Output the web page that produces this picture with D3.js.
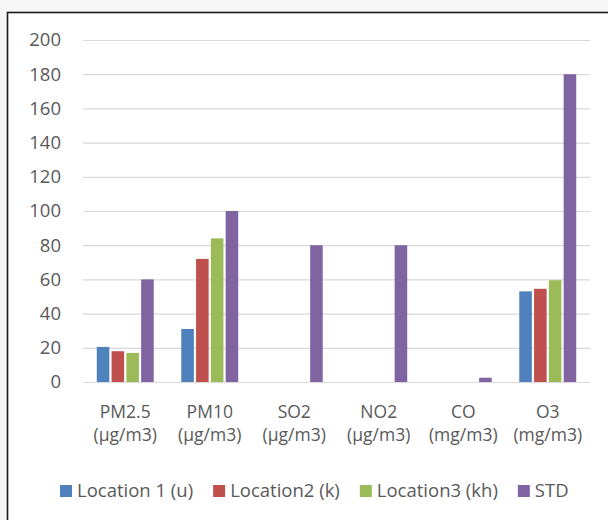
<!DOCTYPE html>
<html>
<head>
<meta charset="utf-8">
<script src="https://cdn.jsdelivr.net/npm/d3@7"></script>
<style>
  html, body { margin: 0; padding: 0; background: #f6f6f6; }
  svg { display: block; }
  text { font-family: "Open Sans", sans-serif; fill: #595959; }
</style>
</head>
<body>
<svg id="chart" width="608" height="520"></svg>
<script>
const categories = ["PM2.5", "PM10", "SO2", "NO2", "CO", "O3"];
const units = ["(µg/m3)", "(µg/m3)", "(µg/m3)", "(µg/m3)", "(mg/m3)", "(mg/m3)"];
const seriesNames = ["Location 1 (u)", "Location2 (k)", "Location3 (kh)", "STD"];
const location1 = [20.5, 31, null, null, null, 53];
const location2 = [18, 72, null, null, null, 54.5];
const location3 = [17, 84, null, null, null, 59.5];
const stdValues = [60, 100, 80, 80, 2.5, 180];
const yTicks = [0, 20, 40, 60, 80, 100, 120, 140, 160, 180, 200];
const colors = ["#4F81BD", "#C0504D", "#9BBB59", "#8064A2"];

const seriesValues = [location1, location2, location3, stdValues];

const svg = d3.select("#chart");

// chart frame
svg.append("rect")
  .attr("x", 7.5).attr("y", 12.5)
  .attr("width", 620).attr("height", 520)
  .attr("fill", "#ffffff")
  .attr("stroke", "#1a1a1a").attr("stroke-width", 1.6);

const plot = { left: 83, right: 590, top: 40, bottom: 382 };

const x0 = d3.scaleBand()
  .domain(categories)
  .range([plot.left, plot.right])
  .paddingInner(0.326)
  .paddingOuter(0.163);

const x1 = d3.scaleBand()
  .domain(d3.range(seriesNames.length))
  .range([0, x0.bandwidth()])
  .paddingInner(0.15);

const y = d3.scaleLinear().domain([0, 200]).range([plot.bottom, plot.top]);

// gridlines + y labels
const yAxis = svg.append("g")
  .attr("transform", `translate(${plot.left},0)`)
  .call(d3.axisLeft(y).tickValues(yTicks).tickSize(-(plot.right - plot.left)).tickPadding(22));
yAxis.select(".domain").remove();
yAxis.selectAll(".tick line").attr("stroke", "#d9d9d9").attr("stroke-width", 1.2);
yAxis.selectAll(".tick text")
  .style("font-family", '"Open Sans", sans-serif')
  .style("font-size", "18.5px")
  .attr("fill", "#595959");

// bars
const groups = svg.append("g").selectAll("g")
  .data(categories)
  .join("g")
  .attr("transform", d => `translate(${x0(d)},0)`);

groups.selectAll("rect")
  .data((d, i) => seriesValues.map((s, j) => ({ s: j, v: s[i] })).filter(e => e.v != null))
  .join("rect")
  .attr("x", d => x1(d.s))
  .attr("width", x1.bandwidth())
  .attr("y", d => y(d.v))
  .attr("height", d => y(0) - y(d.v))
  .attr("fill", d => colors[d.s]);

// category labels (two separate lines)
const catG = svg.append("g");
categories.forEach((c, i) => {
  const cx = x0(c) + x0.bandwidth() / 2;
  catG.append("text")
    .attr("x", cx).attr("y", 418)
    .attr("text-anchor", "middle")
    .style("font-size", "17.5px")
    .text(c);
  catG.append("text")
    .attr("x", cx).attr("y", 441)
    .attr("text-anchor", "middle")
    .style("font-size", "17.5px")
    .text(units[i]);
});

// legend
const legend = svg.append("g");
let lx = 60;
seriesNames.forEach((name, i) => {
  legend.append("rect")
    .attr("x", lx).attr("y", 485)
    .attr("width", 12).attr("height", 12)
    .attr("fill", colors[i]);
  const t = legend.append("text")
    .attr("x", lx + 17).attr("y", 497)
    .style("font-size", "18.5px")
    .text(name);
  const w = t.node().getComputedTextLength();
  lx = lx + 17 + w + 20;
});
</script>
</body>
</html>
